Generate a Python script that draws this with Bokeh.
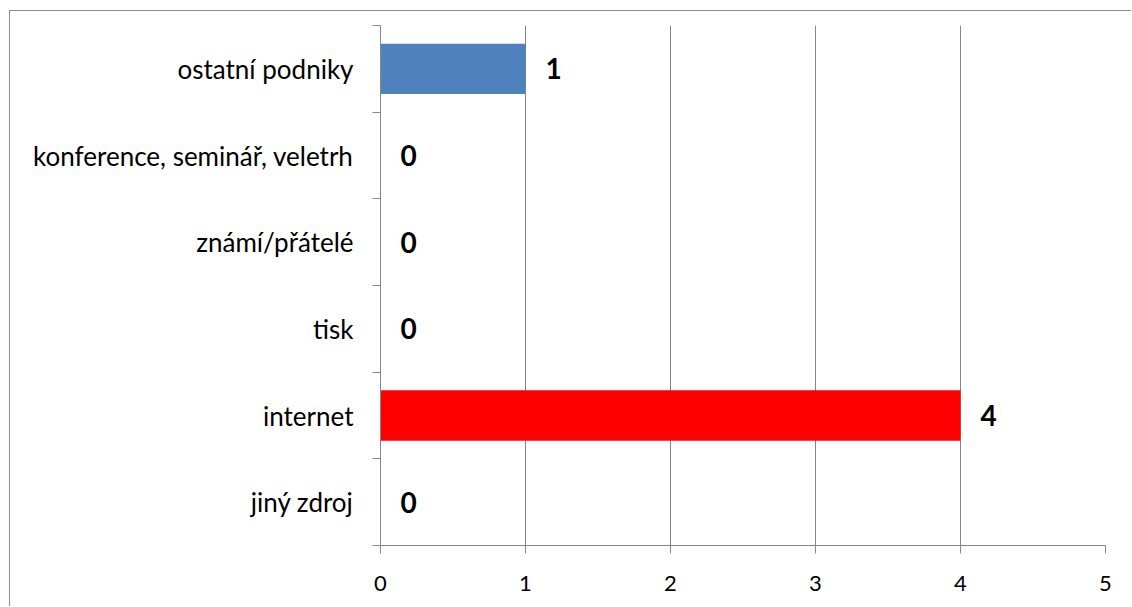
from bokeh.plotting import figure
from bokeh.models import FixedTicker, ColumnDataSource, LabelSet
from bokeh.embed import file_html
from bokeh.resources import INLINE
from bokeh.core.properties import value

categories = ["jiný zdroj", "internet", "tisk", "známí/přátelé", "konference, seminář, veletrh", "ostatní podniky"]
values = [0, 4, 0, 0, 0, 1]
colors = ["#FFFFFF", "#FF0000", "#FFFFFF", "#FFFFFF", "#FFFFFF", "#4F81BD"]
x_ticks = [0, 1, 2, 3, 4, 5]

ypos = [i + 0.5 for i in range(len(categories))]
src = ColumnDataSource(dict(y=ypos, v=values, c=colors, lbl=[str(v) for v in values]))

FONT = "Lato"
GRAY = "#878787"

p = figure(width=1122, height=596, x_range=(0, 5), y_range=(0, len(categories)),
           output_backend="svg", toolbar_location=None,
           min_border_left=370, min_border_right=27, min_border_top=14, min_border_bottom=62)
p.outline_line_color = None
p.styles = {"border-left": "1px solid #8c8c8c", "border-top": "1px solid #8c8c8c",
            "margin-left": "9px", "margin-top": "10px"}

p.hbar(y="y", right="v", left=0, height=0.58, fill_color="c", line_color=None, source=src)

labels = LabelSet(x="v", y="y", text="lbl", source=src, x_offset=20, text_align="left",
                  text_baseline="middle", text_font=value(FONT), text_font_style="bold",
                  text_font_size="28px", text_color="black")
p.add_layout(labels)

# x axis
p.xaxis.ticker = FixedTicker(ticks=x_ticks, minor_ticks=[])
p.xaxis.axis_line_color = GRAY
p.xaxis.major_tick_line_color = GRAY
p.xaxis.major_tick_out = 8
p.xaxis.major_tick_in = 0
p.xaxis.major_label_text_font = FONT
p.xaxis.major_label_text_font_size = "22px"
p.xaxis.major_label_text_color = "black"
p.xaxis.major_label_standoff = 22

# y axis
p.yaxis.ticker = FixedTicker(ticks=ypos, minor_ticks=list(range(len(categories) + 1)))
p.yaxis.major_label_overrides = {y: c for y, c in zip(ypos, categories)}
p.yaxis.axis_line_color = GRAY
p.yaxis.major_tick_out = 0
p.yaxis.major_tick_in = 0
p.yaxis.minor_tick_line_color = GRAY
p.yaxis.minor_tick_out = 8
p.yaxis.minor_tick_in = 0
p.yaxis.major_label_text_font = FONT
p.yaxis.major_label_text_font_size = "26px"
p.yaxis.major_label_text_color = "black"
p.yaxis.major_label_standoff = 19

p.xgrid.ticker = FixedTicker(ticks=x_ticks)
p.xgrid.grid_line_color = GRAY
p.ygrid.grid_line_color = None

open("out.html", "w").write(file_html(p, INLINE))
